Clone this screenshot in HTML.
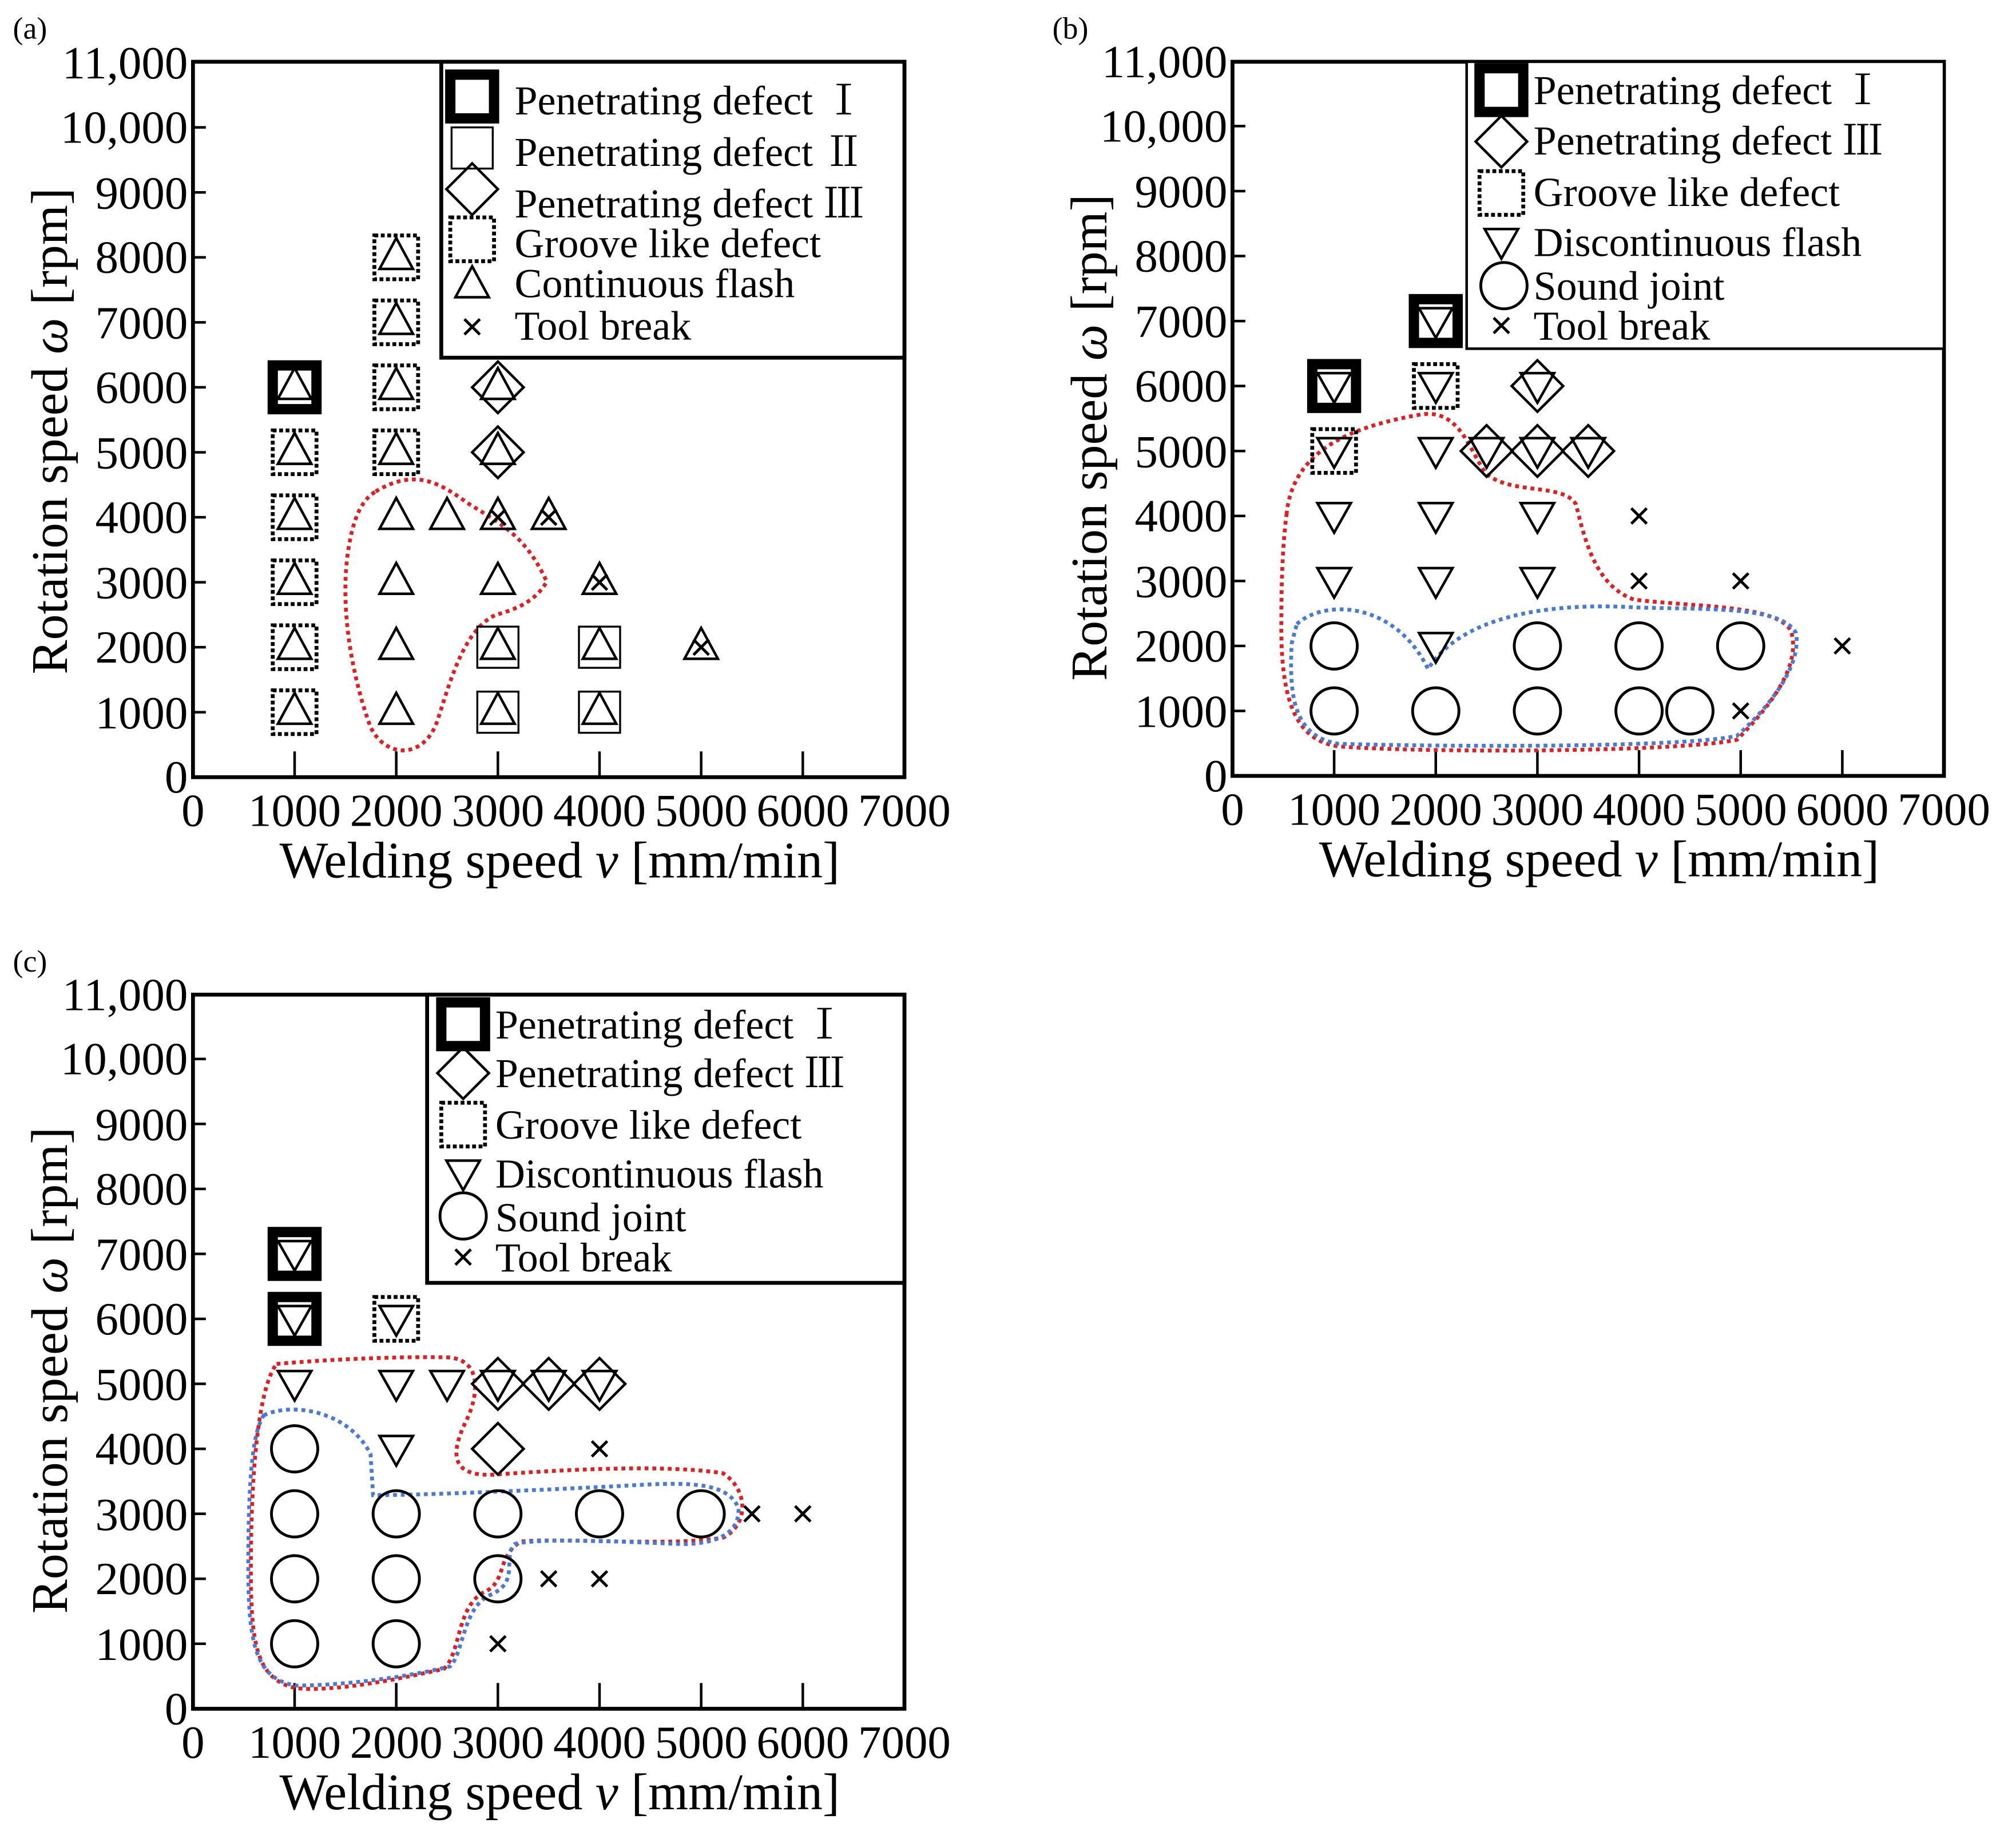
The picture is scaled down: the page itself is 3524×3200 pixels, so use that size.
<!DOCTYPE html>
<html><head><meta charset="utf-8"><style>
html,body{margin:0;padding:0;background:#fff}
svg{display:block}
text{font-family:"Liberation Serif","Noto Serif CJK SC",serif;fill:#000}
</style></head><body>
<svg width="3524" height="3200" viewBox="0 0 1567 1423" preserveAspectRatio="none" xmlns="http://www.w3.org/2000/svg">
<defs>
<g id="ts"><rect x="-17" y="-17" width="34" height="34" fill="none" stroke="#000" stroke-width="8"/></g>
<g id="os"><rect x="-16" y="-16" width="32" height="32" fill="none" stroke="#000" stroke-width="1.5"/></g>
<g id="ds"><rect x="-17" y="-17" width="34" height="34" fill="none" stroke="#000" stroke-width="3" stroke-dasharray="3,2"/></g>
<g id="tu"><polygon points="0,-15 13,9 -13,9" fill="none" stroke="#000" stroke-width="2"/></g>
<g id="td"><polygon points="0,13 13,-10 -13,-10" fill="none" stroke="#000" stroke-width="2"/></g>
<g id="dm"><polygon points="0,-20 20,0 0,20 -20,0" fill="none" stroke="#000" stroke-width="2"/></g>
<g id="ci"><circle r="18" fill="none" stroke="#000" stroke-width="2.2"/></g>
<g id="xx"><path d="M-6,-6L6,6M6,-6L-6,6" stroke="#000" stroke-width="2.2"/></g>
</defs>

<!-- ===== Panel a ===== -->
<text x="10" y="30" font-size="24">(a)</text>
<rect x="150" y="48" width="553" height="556" fill="none" stroke="#000" stroke-width="3"/>
<g stroke="#000" stroke-width="2">
<path d="M229,604v-20M308,604v-20M387,604v-20M466,604v-20M545,604v-20M624,604v-20"/>
<path d="M150,553.5h10M150,503h10M150,452.5h10M150,402h10M150,351.5h10M150,301h10M150,250.5h10M150,200h10M150,149.5h10M150,99h10"/>
</g>
<g font-size="36" text-anchor="end">
<text x="146" y="616">0</text><text x="146" y="566">1000</text><text x="146" y="515">2000</text><text x="146" y="465">3000</text><text x="146" y="414">4000</text><text x="146" y="364">5000</text><text x="146" y="313">6000</text><text x="146" y="263">7000</text><text x="146" y="212">8000</text><text x="146" y="162">9000</text><text x="146" y="111">10,000</text><text x="146" y="61">11,000</text>
</g>
<g font-size="36" text-anchor="middle">
<text x="150" y="642">0</text><text x="229" y="642">1000</text><text x="308" y="642">2000</text><text x="387" y="642">3000</text><text x="466" y="642">4000</text><text x="545" y="642">5000</text><text x="624" y="642">6000</text><text x="703" y="642">7000</text>
</g>
<text x="435" y="682" font-size="40" text-anchor="middle">Welding speed <tspan font-style="italic">v</tspan> [mm/min]</text>
<text transform="translate(52,335) rotate(-90)" font-size="40" text-anchor="middle">Rotation speed <tspan font-style="italic">ω</tspan> [rpm]</text>
<rect x="343" y="48" width="360" height="230" fill="#fff" stroke="#000" stroke-width="3"/>
<use href="#ts" x="367" y="75"/><use href="#os" x="367" y="115"/><use href="#dm" x="367" y="147"/><use href="#ds" x="367" y="186"/><use href="#tu" x="367" y="222"/><use href="#xx" x="367" y="254"/>
<g font-size="32"><text x="400" y="89">Penetrating defect  Ⅰ</text><text x="400" y="129">Penetrating defect  Ⅱ</text><text x="400" y="169">Penetrating defect  Ⅲ</text><text x="400" y="200">Groove like defect</text><text x="400" y="231">Continuous flash</text><text x="400" y="264">Tool break</text></g>
<path d="M292,382 C325,362 345,378 365,392 C395,410 410,420 425,452 C415,470 395,475 385,478 C360,490 350,530 340,560 C330,590 300,590 288,565 C275,530 262,470 272,420 C276,400 282,388 292,382 Z" fill="none" stroke="#e02020" stroke-width="3" stroke-dasharray="3,3"/>
<use href="#ts" x="229" y="301"/><use href="#tu" x="229" y="301"/>
<use href="#ds" x="229" y="351.5"/><use href="#tu" x="229" y="351.5"/>
<use href="#ds" x="229" y="402"/><use href="#tu" x="229" y="402"/>
<use href="#ds" x="229" y="452.5"/><use href="#tu" x="229" y="452.5"/>
<use href="#ds" x="229" y="503"/><use href="#tu" x="229" y="503"/>
<use href="#ds" x="229" y="553.5"/><use href="#tu" x="229" y="553.5"/>
<use href="#ds" x="308" y="200"/><use href="#tu" x="308" y="200"/>
<use href="#ds" x="308" y="250.5"/><use href="#tu" x="308" y="250.5"/>
<use href="#ds" x="308" y="301"/><use href="#tu" x="308" y="301"/>
<use href="#ds" x="308" y="351.5"/><use href="#tu" x="308" y="351.5"/>
<use href="#tu" x="308" y="402"/><use href="#tu" x="308" y="452.5"/><use href="#tu" x="308" y="503"/><use href="#tu" x="308" y="553.5"/>
<use href="#tu" x="347.5" y="402"/>
<use href="#dm" x="387" y="301"/><use href="#tu" x="387" y="301"/>
<use href="#dm" x="387" y="351.5"/><use href="#tu" x="387" y="351.5"/>
<use href="#tu" x="387" y="402"/><use href="#xx" x="387" y="402"/>
<use href="#tu" x="387" y="452.5"/>
<use href="#os" x="387" y="503"/><use href="#tu" x="387" y="503"/>
<use href="#os" x="387" y="553.5"/><use href="#tu" x="387" y="553.5"/>
<use href="#tu" x="426.5" y="402"/><use href="#xx" x="426.5" y="402"/>
<use href="#tu" x="466" y="452.5"/><use href="#xx" x="466" y="452.5"/>
<use href="#os" x="466" y="503"/><use href="#tu" x="466" y="503"/>
<use href="#os" x="466" y="553.5"/><use href="#tu" x="466" y="553.5"/>
<use href="#tu" x="545" y="503"/><use href="#xx" x="545" y="503"/>

<!-- ===== Panel b ===== -->
<text x="818" y="30" font-size="24">(b)</text>
<rect x="958" y="48" width="553" height="555" fill="none" stroke="#000" stroke-width="3"/>
<g stroke="#000" stroke-width="2">
<path d="M1037,603v-20M1116,603v-20M1195,603v-20M1274,603v-20M1353,603v-20M1432,603v-20"/>
<path d="M958,552.5h10M958,502h10M958,451.5h10M958,401h10M958,350.5h10M958,300h10M958,249.5h10M958,199h10M958,148.5h10M958,98h10"/>
</g>
<g font-size="36" text-anchor="end">
<text x="954" y="615">0</text><text x="954" y="565">1000</text><text x="954" y="514">2000</text><text x="954" y="464">3000</text><text x="954" y="413">4000</text><text x="954" y="363">5000</text><text x="954" y="312">6000</text><text x="954" y="262">7000</text><text x="954" y="211">8000</text><text x="954" y="161">9000</text><text x="954" y="110">10,000</text><text x="954" y="60">11,000</text>
</g>
<g font-size="36" text-anchor="middle">
<text x="958" y="641">0</text><text x="1037" y="641">1000</text><text x="1116" y="641">2000</text><text x="1195" y="641">3000</text><text x="1274" y="641">4000</text><text x="1353" y="641">5000</text><text x="1432" y="641">6000</text><text x="1511" y="641">7000</text>
</g>
<text x="1243" y="681" font-size="40" text-anchor="middle">Welding speed <tspan font-style="italic">v</tspan> [mm/min]</text>
<text transform="translate(860,340) rotate(-90)" font-size="40" text-anchor="middle">Rotation speed <tspan font-style="italic">ω</tspan> [rpm]</text>
<rect x="1140" y="48" width="371" height="223" fill="#fff" stroke="#000" stroke-width="2"/>
<use href="#ts" x="1167" y="70"/><use href="#dm" x="1167" y="110"/><use href="#ds" x="1167" y="150"/><use href="#td" x="1167" y="188"/><use href="#ci" x="1169" y="222"/><use href="#xx" x="1167" y="253"/>
<g font-size="32"><text x="1192" y="81">Penetrating defect  Ⅰ</text><text x="1192" y="120">Penetrating defect  Ⅲ</text><text x="1192" y="160">Groove like defect</text><text x="1192" y="199">Discontinuous flash</text><text x="1192" y="233">Sound joint</text><text x="1192" y="264">Tool break</text></g>
<path d="M1000,400 C1005,345 1060,330 1105,322 C1135,318 1142,350 1155,368 C1175,385 1215,375 1225,392 C1232,420 1240,455 1270,466 C1320,472 1380,470 1392,490 C1400,515 1380,545 1350,575 C1300,585 1100,585 1040,580 C1005,575 995,540 996,480 C996,440 998,415 1000,400 Z" fill="none" stroke="#e02020" stroke-width="3" stroke-dasharray="3,3"/>
<path d="M1008,485 C1030,465 1085,468 1110,520 C1135,480 1200,468 1270,472 C1320,474 1385,470 1396,492 C1400,515 1380,545 1350,572 C1300,582 1100,580 1040,578 C1005,572 1002,540 1004,500 Z" fill="none" stroke="#4a7ad8" stroke-width="3" stroke-dasharray="3,3"/>
<use href="#ts" x="1037" y="300"/><use href="#td" x="1037" y="300"/>
<use href="#ds" x="1037" y="350.5"/><use href="#td" x="1037" y="350.5"/>
<use href="#td" x="1037" y="401"/><use href="#td" x="1037" y="451.5"/><use href="#ci" x="1037" y="502"/><use href="#ci" x="1037" y="552.5"/>
<use href="#ts" x="1116" y="249.5"/><use href="#td" x="1116" y="249.5"/>
<use href="#ds" x="1116" y="300"/><use href="#td" x="1116" y="300"/>
<use href="#td" x="1116" y="350.5"/><use href="#td" x="1116" y="401"/><use href="#td" x="1116" y="451.5"/><use href="#td" x="1116" y="502"/><use href="#ci" x="1116" y="552.5"/>
<use href="#dm" x="1155.5" y="350.5"/><use href="#td" x="1155.5" y="350.5"/>
<use href="#dm" x="1195" y="300"/><use href="#td" x="1195" y="300"/>
<use href="#dm" x="1195" y="350.5"/><use href="#td" x="1195" y="350.5"/>
<use href="#td" x="1195" y="401"/><use href="#td" x="1195" y="451.5"/><use href="#ci" x="1195" y="502"/><use href="#ci" x="1195" y="552.5"/>
<use href="#dm" x="1234.5" y="350.5"/><use href="#td" x="1234.5" y="350.5"/>
<use href="#xx" x="1274" y="401"/><use href="#xx" x="1274" y="451.5"/><use href="#ci" x="1274" y="502"/><use href="#ci" x="1274" y="552.5"/>
<use href="#ci" x="1313.5" y="552.5"/>
<use href="#xx" x="1353" y="451.5"/><use href="#ci" x="1353" y="502"/><use href="#xx" x="1353" y="552.5"/>
<use href="#xx" x="1432" y="502"/>

<!-- ===== Panel c ===== -->
<text x="10" y="755" font-size="24">(c)</text>
<rect x="150" y="773" width="553" height="555" fill="none" stroke="#000" stroke-width="3"/>
<g stroke="#000" stroke-width="2">
<path d="M229,1328v-20M308,1328v-20M387,1328v-20M466,1328v-20M545,1328v-20M624,1328v-20"/>
<path d="M150,1277.5h10M150,1227h10M150,1176.5h10M150,1126h10M150,1075.5h10M150,1025h10M150,974.5h10M150,924h10M150,873.5h10M150,823h10"/>
</g>
<g font-size="36" text-anchor="end">
<text x="146" y="1340">0</text><text x="146" y="1290">1000</text><text x="146" y="1239">2000</text><text x="146" y="1189">3000</text><text x="146" y="1138">4000</text><text x="146" y="1088">5000</text><text x="146" y="1037">6000</text><text x="146" y="987">7000</text><text x="146" y="936">8000</text><text x="146" y="886">9000</text><text x="146" y="835">10,000</text><text x="146" y="785">11,000</text>
</g>
<g font-size="36" text-anchor="middle">
<text x="150" y="1366">0</text><text x="229" y="1366">1000</text><text x="308" y="1366">2000</text><text x="387" y="1366">3000</text><text x="466" y="1366">4000</text><text x="545" y="1366">5000</text><text x="624" y="1366">6000</text><text x="703" y="1366">7000</text>
</g>
<text x="435" y="1406" font-size="40" text-anchor="middle">Welding speed <tspan font-style="italic">v</tspan> [mm/min]</text>
<text transform="translate(52,1065) rotate(-90)" font-size="40" text-anchor="middle">Rotation speed <tspan font-style="italic">ω</tspan> [rpm]</text>
<rect x="332" y="773" width="371" height="224" fill="#fff" stroke="#000" stroke-width="3"/>
<use href="#ts" x="360" y="796"/><use href="#dm" x="360" y="834"/><use href="#ds" x="360" y="874"/><use href="#td" x="360" y="912"/><use href="#ci" x="360" y="945"/><use href="#xx" x="360" y="977"/>
<g font-size="32"><text x="385" y="807">Penetrating defect  Ⅰ</text><text x="385" y="845">Penetrating defect  Ⅲ</text><text x="385" y="885">Groove like defect</text><text x="385" y="923">Discontinuous flash</text><text x="385" y="957">Sound joint</text><text x="385" y="988">Tool break</text></g>
<path d="M215,1060 C260,1056 320,1054 350,1055 C375,1058 372,1085 362,1105 C350,1130 350,1148 385,1146 C440,1142 520,1138 562,1145 C582,1158 582,1185 562,1195 C520,1202 440,1195 405,1198 C385,1210 395,1230 375,1238 C355,1250 358,1285 345,1297 C310,1305 260,1315 230,1312 C200,1305 195,1280 195,1220 C195,1150 200,1080 215,1060 Z" fill="none" stroke="#e02020" stroke-width="3" stroke-dasharray="3,3"/>
<path d="M205,1100 C225,1090 270,1095 288,1130 L290,1162 C330,1162 420,1158 480,1155 C530,1152 565,1150 574,1172 C575,1190 560,1200 530,1200 C480,1198 420,1195 400,1200 C390,1212 405,1230 380,1240 C360,1250 360,1285 350,1295 C310,1305 260,1310 230,1310 C200,1305 193,1280 193,1220 C193,1160 195,1115 205,1100 Z" fill="none" stroke="#4a7ad8" stroke-width="3" stroke-dasharray="3,3"/>
<use href="#ts" x="229" y="974.5"/><use href="#td" x="229" y="974.5"/>
<use href="#ts" x="229" y="1025"/><use href="#td" x="229" y="1025"/>
<use href="#td" x="229" y="1075.5"/><use href="#ci" x="229" y="1126"/><use href="#ci" x="229" y="1176.5"/><use href="#ci" x="229" y="1227"/><use href="#ci" x="229" y="1277.5"/>
<use href="#ds" x="308" y="1025"/><use href="#td" x="308" y="1025"/>
<use href="#td" x="308" y="1075.5"/><use href="#td" x="308" y="1126"/><use href="#ci" x="308" y="1176.5"/><use href="#ci" x="308" y="1227"/><use href="#ci" x="308" y="1277.5"/>
<use href="#td" x="347.5" y="1075.5"/>
<use href="#dm" x="387" y="1075.5"/><use href="#td" x="387" y="1075.5"/>
<use href="#dm" x="387" y="1126"/><use href="#ci" x="387" y="1176.5"/><use href="#ci" x="387" y="1227"/><use href="#xx" x="387" y="1277.5"/>
<use href="#dm" x="426.5" y="1075.5"/><use href="#td" x="426.5" y="1075.5"/><use href="#xx" x="426.5" y="1227"/>
<use href="#dm" x="466" y="1075.5"/><use href="#td" x="466" y="1075.5"/>
<use href="#xx" x="466" y="1126"/><use href="#ci" x="466" y="1176.5"/><use href="#xx" x="466" y="1227"/>
<use href="#ci" x="545" y="1176.5"/>
<use href="#xx" x="584.5" y="1176.5"/><use href="#xx" x="624" y="1176.5"/>
</svg>
</body></html>
